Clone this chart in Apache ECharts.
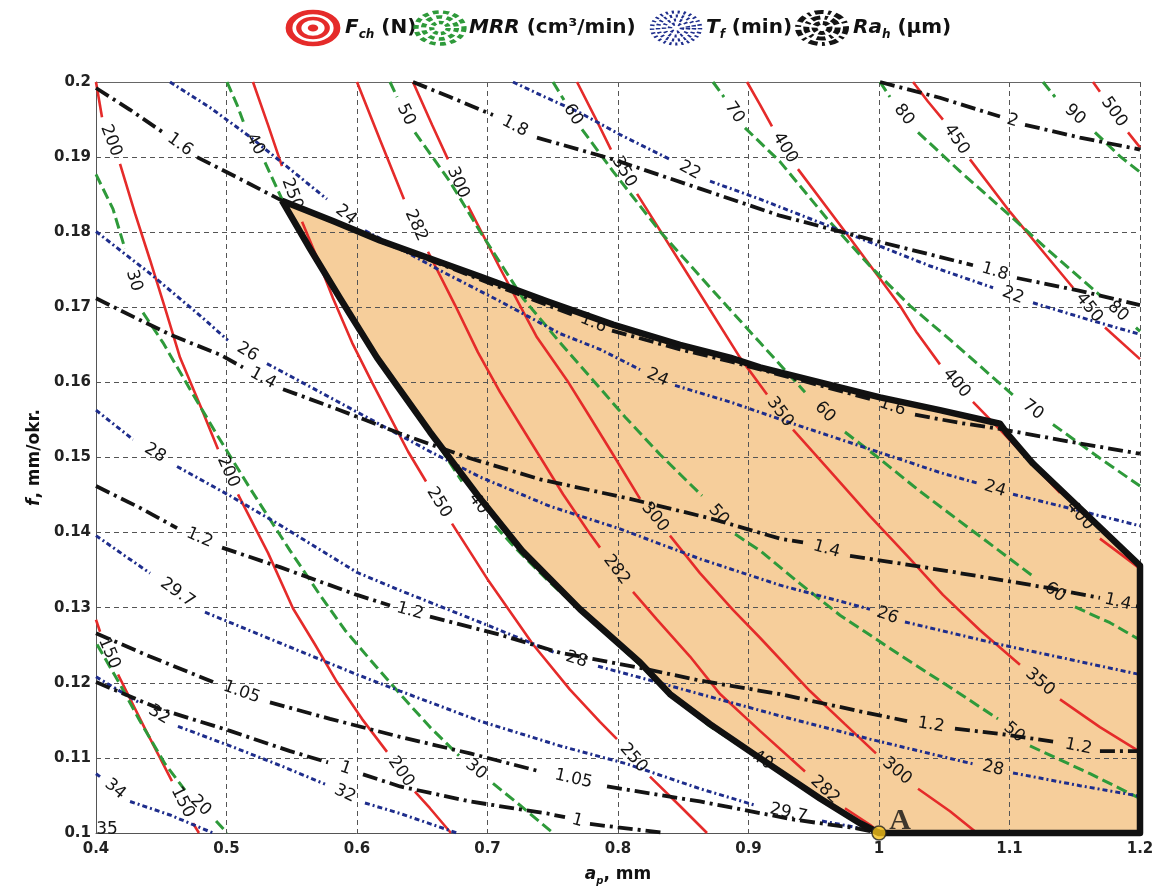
<!DOCTYPE html>
<html><head><meta charset="utf-8">
<script src="https://cdn.jsdelivr.net/npm/echarts/dist/echarts.min.js"></script>
<style>html,body{margin:0;padding:0;background:#fff}#c{width:1169px;height:891px}</style>
</head><body><div id="c"></div>
<script>
// ---------- axis ranges (a_p in mm, f in mm/okr.) ----------
const apAxis = [0.4, 1.2, 0.1];
const fAxis = [0.1, 0.2, 0.01];

// ---------- F_ch (N) contours: segments split at contour labels ----------
const F150 = [[[0.4000,0.1284],[0.4031,0.1268]],[[0.4169,0.1211],[0.4375,0.1139],[0.4582,0.1069]],[[0.4743,0.1013],[0.4789,0.1000]]];
const F200 = [[[0.4000,0.2000],[0.4046,0.1953]],[[0.4184,0.1891],[0.4299,0.1825],[0.4414,0.1763],[0.4529,0.1699],[0.4644,0.1633],[0.4797,0.1570],[0.4935,0.1511]],[[0.5088,0.1451],[0.5318,0.1373],[0.5510,0.1299],[0.5678,0.1251],[0.5847,0.1201],[0.6038,0.1152],[0.6230,0.1108]],[[0.6444,0.1055],[0.6559,0.1033],[0.6720,0.1000]]];
const F250 = [[[0.5203,0.2000],[0.5318,0.1943],[0.5425,0.1888]],[[0.5579,0.1814],[0.5701,0.1763],[0.5816,0.1712],[0.5962,0.1653],[0.6115,0.1600],[0.6253,0.1554],[0.6391,0.1508],[0.6529,0.1468]],[[0.6728,0.1412],[0.6996,0.1339],[0.7349,0.1251],[0.7632,0.1191],[0.7862,0.1148],[0.7992,0.1125]],[[0.8245,0.1075],[0.8475,0.1036],[0.8682,0.1000]]];
const F282 = [[[0.6000,0.2000],[0.6176,0.1923],[0.6360,0.1844]],[[0.6544,0.1774],[0.6751,0.1703],[0.6927,0.1640],[0.7096,0.1587],[0.7249,0.1544],[0.7402,0.1501],[0.7579,0.1451],[0.7770,0.1402],[0.7862,0.1380]],[[0.8115,0.1321],[0.8299,0.1284],[0.8552,0.1235],[0.8782,0.1185],[0.9088,0.1136],[0.9433,0.1082]],[[0.9739,0.1033],[0.9931,0.1011],[1.0008,0.1000]]];
const F300 = [[[0.6429,0.2000],[0.6575,0.1943],[0.6697,0.1897]],[[0.6851,0.1835],[0.7096,0.1752],[0.7379,0.1660],[0.7609,0.1603],[0.7785,0.1554],[0.7962,0.1504],[0.8169,0.1445]],[[0.8398,0.1396],[0.8628,0.1346],[0.8881,0.1297],[0.9088,0.1260],[0.9471,0.1189],[0.9739,0.1145],[0.9977,0.1106]],[[1.0299,0.1059],[1.0544,0.1029],[1.0751,0.1000]]];
const F350 = [[[0.7686,0.2000],[0.7824,0.1953],[0.7946,0.1910]],[[0.8146,0.1851],[0.8552,0.1739],[0.8935,0.1633],[0.9142,0.1584]],[[0.9341,0.1537],[0.9625,0.1482],[0.9931,0.1422],[1.0238,0.1365],[1.0490,0.1317],[1.0774,0.1270],[1.1080,0.1224]],[[1.1387,0.1178],[1.1693,0.1141],[1.2000,0.1108]]];
const F400 = [[[0.8989,0.2000],[0.9088,0.1970],[0.9180,0.1941]],[[0.9379,0.1884],[0.9778,0.1792],[1.0161,0.1702],[1.0291,0.1666],[1.0467,0.1624]],[[1.0720,0.1574],[1.0927,0.1537],[1.1157,0.1495],[1.1387,0.1453]],[[1.1693,0.1392],[1.1847,0.1372],[1.2000,0.1352]]];
const F450 = [[[1.0261,0.2000],[1.0375,0.1974],[1.0490,0.1950]],[[1.0697,0.1897],[1.1004,0.1827],[1.1310,0.1763],[1.1487,0.1726]],[[1.1732,0.1673],[1.2000,0.1631]]];
const F500 = [[[1.1640,0.2000],[1.1693,0.1987]],[[1.1908,0.1933],[1.2000,0.1913]]];

// ---------- MRR (cm3/min) contours ----------
const M20 = [[[0.4008,0.1251],[0.4184,0.1198],[0.4337,0.1149],[0.4529,0.1092],[0.4682,0.1057]],[[0.4920,0.1016],[0.5004,0.1000]]];
const M30 = [[[0.4000,0.1877],[0.4130,0.1831],[0.4222,0.1778]],[[0.4360,0.1693],[0.4513,0.1653],[0.4720,0.1591],[0.4935,0.1528],[0.5180,0.1459],[0.5487,0.1376],[0.5716,0.1317],[0.5908,0.1270],[0.6100,0.1231],[0.6330,0.1185],[0.6559,0.1141],[0.6782,0.1103]],[[0.7042,0.1066],[0.7249,0.1037],[0.7502,0.1000]]];
const M40 = [[[0.5004,0.2000],[0.5080,0.1970],[0.5142,0.1941]],[[0.5295,0.1893],[0.5425,0.1844],[0.5640,0.1778],[0.5870,0.1712],[0.6153,0.1633],[0.6559,0.1534],[0.6805,0.1468]],[[0.7057,0.1409],[0.7211,0.1380],[0.7464,0.1336],[0.7709,0.1297],[0.8169,0.1224],[0.8398,0.1185],[0.8705,0.1142],[0.8973,0.1112]],[[0.9241,0.1082],[0.9548,0.1046],[0.9854,0.1013],[1.0000,0.1000]]];
const M50 = [[[0.6253,0.2000],[0.6307,0.1980]],[[0.6444,0.1933],[0.6713,0.1867],[0.6943,0.1801],[0.7272,0.1712],[0.7556,0.1653],[0.7808,0.1603],[0.8054,0.1554],[0.8322,0.1504],[0.8644,0.1449]],[[0.8897,0.1398],[0.9088,0.1376],[0.9395,0.1332],[0.9701,0.1290],[1.0161,0.1237],[1.0544,0.1194],[1.0912,0.1152]],[[1.1157,0.1116],[1.1617,0.1079],[1.2000,0.1046]]];
const M60 = [[[0.7502,0.2000],[0.7586,0.1976]],[[0.7724,0.1937],[0.7962,0.1881],[0.8322,0.1801],[0.8728,0.1722],[0.9088,0.1653],[0.9433,0.1587]],[[0.9739,0.1534],[0.9985,0.1501],[1.0314,0.1455],[1.0697,0.1405],[1.1195,0.1340]],[[1.1502,0.1301],[1.1770,0.1280],[1.2000,0.1257]]];
const M70 = [[[0.8728,0.2000],[0.8812,0.1980]],[[0.8973,0.1939],[0.9241,0.1894],[0.9602,0.1818],[0.9931,0.1755],[1.0238,0.1702],[1.0544,0.1657],[1.1027,0.1583]],[[1.1333,0.1544],[1.1693,0.1499],[1.2000,0.1462]]];
const M80 = [[[1.0008,0.2000],[1.0084,0.1980]],[[1.0299,0.1933],[1.0621,0.1881],[1.1004,0.1822],[1.1310,0.1774],[1.1693,0.1716]],[[1.1969,0.1673],[1.2000,0.1668]]];
const M90 = [[[1.1257,0.2000],[1.1349,0.1980]],[[1.1655,0.1933],[1.1847,0.1901],[1.2000,0.1880]]];

// ---------- T_f (min) contours ----------
const T22 = [[[0.7195,0.2000],[0.7441,0.1980],[0.7709,0.1959],[0.8015,0.1930],[0.8398,0.1897]],[[0.8705,0.1868],[0.9088,0.1844],[0.9854,0.1792],[1.0391,0.1755],[1.0874,0.1726]],[[1.1180,0.1706],[1.1617,0.1683],[1.2000,0.1664]]];
const T24 = [[[0.4567,0.2000],[0.4874,0.1966],[0.5180,0.1927],[0.5487,0.1884],[0.5770,0.1844]],[[0.6061,0.1802],[0.6330,0.1778],[0.6659,0.1747],[0.7096,0.1708],[0.7556,0.1665],[0.7862,0.1644],[0.8169,0.1617]],[[0.8437,0.1596],[0.8858,0.1574],[0.9341,0.1545],[0.9931,0.1511],[1.0467,0.1480],[1.0751,0.1466]],[[1.1027,0.1451],[1.1540,0.1429],[1.2000,0.1409]]];
const T26 = [[[0.4000,0.1801],[0.4414,0.1745],[0.4797,0.1689],[0.5011,0.1656]],[[0.5310,0.1625],[0.5793,0.1580],[0.6176,0.1544],[0.6559,0.1508],[0.6943,0.1474],[0.7479,0.1435],[0.8015,0.1405],[0.8628,0.1365],[0.9241,0.1330],[0.9931,0.1298]],[[1.0199,0.1281],[1.0927,0.1251],[1.1464,0.1231],[1.2000,0.1211]]];
const T28 = [[[0.4000,0.1563],[0.4284,0.1524]],[[0.4621,0.1488],[0.5027,0.1449],[0.5410,0.1410],[0.6000,0.1347],[0.6330,0.1323],[0.6996,0.1277],[0.7517,0.1240]],[[0.7847,0.1222],[0.8169,0.1207],[0.8628,0.1185],[0.9241,0.1156],[0.9931,0.1125],[1.0720,0.1092]],[[1.1027,0.1080],[1.1540,0.1063],[1.2000,0.1049]]];
const T297 = [[[0.4000,0.1396],[0.4222,0.1369],[0.4414,0.1346]],[[0.4835,0.1294],[0.5410,0.1253],[0.6000,0.1211],[0.6330,0.1189],[0.6943,0.1149],[0.7556,0.1116],[0.8069,0.1092],[0.8628,0.1059],[0.9050,0.1037]],[[0.9563,0.1016],[0.9778,0.1009],[1.0000,0.1001]]];
const T32 = [[[0.4000,0.1208],[0.4337,0.1173]],[[0.4628,0.1142],[0.5027,0.1116],[0.5410,0.1090],[0.5755,0.1065]],[[0.6061,0.1040],[0.6330,0.1026],[0.6766,0.1000]]];
const T34 = [[[0.4000,0.1079],[0.4031,0.1075]],[[0.4261,0.1042],[0.4567,0.1024],[0.4897,0.1000]]];
const T35label = [0.4084, 0.1005];

// ---------- Ra_h (um) contours ----------
const R100 = [[[0.4000,0.1201],[0.4490,0.1165],[0.5027,0.1136],[0.5487,0.1109],[0.5778,0.1094]],[[0.6046,0.1078],[0.6330,0.1062],[0.6866,0.1042],[0.7456,0.1026],[0.7594,0.1021]],[[0.7785,0.1012],[0.8169,0.1004],[0.8360,0.1000]]];
const R105 = [[[0.4000,0.1266],[0.4414,0.1235],[0.4897,0.1201]],[[0.5333,0.1174],[0.5793,0.1152],[0.6330,0.1128],[0.6866,0.1106],[0.7402,0.1082]],[[0.7916,0.1062],[0.8628,0.1042],[0.9341,0.1018],[0.9801,0.1007],[1.0008,0.1000]]];
const R120 = [[[0.4000,0.1462],[0.4337,0.1433],[0.4621,0.1406]],[[0.4966,0.1380],[0.5410,0.1354],[0.6000,0.1317],[0.6253,0.1303]],[[0.6559,0.1288],[0.7096,0.1264],[0.7556,0.1240],[0.8169,0.1220],[0.8628,0.1203],[0.9241,0.1185],[0.9854,0.1162],[1.0215,0.1149]],[[1.0582,0.1139],[1.0927,0.1132],[1.1364,0.1121]],[[1.1693,0.1109],[1.2000,0.1109]]];
const R140 = [[[0.4000,0.1712],[0.4337,0.1683],[0.4590,0.1662],[0.4950,0.1637],[0.5126,0.1620]],[[0.5433,0.1591],[0.5870,0.1563],[0.6330,0.1532],[0.6866,0.1499],[0.7402,0.1471],[0.8092,0.1445],[0.8728,0.1418],[0.9241,0.1392],[0.9418,0.1387]],[[0.9778,0.1369],[1.0161,0.1359],[1.0621,0.1346],[1.1310,0.1326],[1.1693,0.1313]],[[1.1969,0.1302],[1.2000,0.1301]]];
const R160 = [[[0.4000,0.1992],[0.4261,0.1963],[0.4513,0.1933]],[[0.4774,0.1900],[0.5103,0.1871],[0.5425,0.1842],[0.5816,0.1814],[0.6176,0.1788],[0.6559,0.1763],[0.6943,0.1737],[0.7456,0.1703],[0.7670,0.1689]],[[0.7954,0.1669],[0.8475,0.1644],[0.8858,0.1628],[0.9395,0.1603],[0.9931,0.1578]],[[1.0276,0.1557],[1.0621,0.1546],[1.0927,0.1538],[1.1464,0.1521],[1.2000,0.1505]]];
const R180 = [[[0.6429,0.2000],[0.6713,0.1980],[0.7042,0.1956]],[[0.7379,0.1926],[0.7962,0.1897],[0.8628,0.1858],[0.9241,0.1822],[0.9985,0.1788],[1.0720,0.1756]],[[1.1057,0.1739],[1.1540,0.1722],[1.2000,0.1703]]];
const R200 = [[[1.0008,0.2000],[1.0467,0.1979],[1.0927,0.1954]],[[1.1119,0.1943],[1.1540,0.1926],[1.2000,0.1910]]];

// ---------- feasible region and optimum point A ----------
const feasibleRegion = [[0.5425,0.1842],[0.5816,0.1815],[0.6176,0.1789],[0.6559,0.1765],[0.6943,0.1741],[0.7456,0.1708],[0.7962,0.1677],[0.8475,0.1650],[0.8858,0.1633],[0.9088,0.1620],[0.9548,0.1600],[1.0008,0.1580],[1.0467,0.1563],[1.0927,0.1545],[1.0981,0.1532],[1.1180,0.1492],[1.2000,0.1356],[1.2000,0.1000],[1.0000,0.1000],[0.9854,0.1013],[0.9548,0.1046],[0.9034,0.1106],[0.8705,0.1145],[0.8398,0.1185],[0.8169,0.1227],[0.7709,0.1298],[0.7264,0.1376],[0.6927,0.1449],[0.6559,0.1534],[0.6153,0.1633],[0.5870,0.1712],[0.5640,0.1778]];
const pointA = [1.0, 0.1];

const contours = [
  ['red','150',F150],['red','200',F200],['red','250',F250],['red','282',F282],['red','300',F300],
  ['red','350',F350],['red','400',F400],['red','450',F450],['red','500',F500],
  ['green','20',M20],['green','30',M30],['green','40',M40],['green','50',M50],['green','60',M60],
  ['green','70',M70],['green','80',M80],['green','90',M90],
  ['blue','22',T22],['blue','24',T24],['blue','26',T26],['blue','28',T28],['blue','29.7',T297],['blue','32',T32],['blue','34',T34],
  ['black','1',R100],['black','1.05',R105],['black','1.2',R120],['black','1.4',R140],['black','1.6',R160],['black','1.8',R180],['black','2',R200]
];

const lineStyles = {
  red:   {color:'#E52B2A', width:2.6, type:'solid'},
  green: {color:'#2E9A3A', width:3, type:[11,5]},
  blue:  {color:'#1E2D8C', width:3, type:[5,3,2,3]},
  black: {color:'#141414', width:3.8, type:[15,5,3,5]}
};

const series = [];
const lineLabels = [];

series.push({
  type:'custom', z:0, silent:true, clip:false, animation:false,
  data:[feasibleRegion[0]],
  renderItem:(params, api) => ({
    type:'polygon',
    shape:{points: feasibleRegion.map(p => api.coord(p))},
    style:{fill:'#F6CE9B'}
  })
});

contours.forEach(([kind, value, segs]) => {
  segs.forEach(seg => {
    series.push({type:'line', data:seg, symbol:'none', silent:true, z:3, animation:false,
      lineStyle:Object.assign({}, lineStyles[kind])});
  });
  for (let i = 0; i < segs.length - 1; i++) {
    const a = segs[i][segs[i].length - 1], b = segs[i + 1][0];
    lineLabels.push([(a[0] + b[0]) / 2, (a[1] + b[1]) / 2, value, a[0], a[1], b[0], b[1]]);
  }
});
lineLabels.push([T35label[0], T35label[1], '35', T35label[0] - 0.01, T35label[1], T35label[0] + 0.01, T35label[1]]);

series.push({
  type:'custom', z:5, silent:true, clip:false, animation:false,
  data: lineLabels.map(l => [l[0], l[1]]),
  renderItem:(params, api) => {
    const l = lineLabels[params.dataIndex];
    const p = api.coord([l[0], l[1]]);
    const a = api.coord([l[3], l[4]]), b = api.coord([l[5], l[6]]);
    let th = Math.atan2(b[1] - a[1], b[0] - a[0]);
    if (th > Math.PI / 2) th -= Math.PI;
    if (th < -Math.PI / 2) th += Math.PI;
    return {type:'text', x:p[0], y:p[1], rotation:-th,
      style:{text:l[2], fill:'#151515', font:'17px "DejaVu Sans"', align:'center', verticalAlign:'middle', textAlign:'center', textVerticalAlign:'middle'}};
  }
});

series.push({
  type:'line', data: feasibleRegion.concat([feasibleRegion[0]]), symbol:'none', silent:true, z:6, clip:false, animation:false,
  lineStyle:{color:'#111', width:6.5, type:'solid', join:'round'}
});

series.push({
  type:'scatter', data:[pointA], symbol:'circle', symbolSize:14, z:7, clip:false, silent:true, animation:false,
  itemStyle:{color:'#F5C21C', borderColor:'#222', borderWidth:1.5},
  label:{show:true, formatter:'A', position:[18,-19], fontFamily:'"Liberation Serif", serif', fontWeight:'bold', fontSize:30, color:'#111'}
});

const fmt = v => String(parseFloat(v.toFixed(2)));
const tickFont = {fontFamily:'DejaVu Sans', fontWeight:'bold', fontSize:15, color:'#222'};
const gridLine = {show:true, lineStyle:{color:'#555', type:[5,4], width:1}};

function ring(r, color, lw, dash, fillIt) {
  return {type:'circle', shape:{cx:0, cy:0, r:r},
    style: fillIt ? {fill:color} : {fill:'none', stroke:color, lineWidth:lw, lineDash:dash || null}};
}
function icon(x, children) {
  return {type:'group', x:x, y:28, scaleX:1.5, scaleY:1, children:children};
}
const richBase = {
  i:{fontFamily:'DejaVu Sans', fontStyle:'italic', fontWeight:'bold', fontSize:20, lineHeight:26, fill:'#111', color:'#111', verticalAlign:'middle'},
  s:{fontFamily:'DejaVu Sans', fontStyle:'italic', fontWeight:'bold', fontSize:12, lineHeight:12, fill:'#111', color:'#111', verticalAlign:'bottom'},
  n:{fontFamily:'DejaVu Sans', fontWeight:'bold', fontSize:20, lineHeight:26, fill:'#111', color:'#111', verticalAlign:'middle'}
};
function legText(x, t) {
  return {type:'text', x:x, y:28, style:{text:t, rich:richBase, verticalAlign:'middle', textVerticalAlign:'middle'}};
}

const option = {
  backgroundColor:'#fff',
  animation:false,
  grid:{left:96, right:29, top:82, bottom:51, containLabel:false},
  xAxis:[{
    type:'value', min:apAxis[0], max:apAxis[1], interval:apAxis[2], z:1,
    axisLine:{show:true, onZero:false, lineStyle:{color:'#555', width:1}},
    axisTick:{show:false},
    axisLabel:Object.assign({margin:9, formatter:fmt}, tickFont),
    splitLine:gridLine,
    name:'{i|a}{s|p}{n|, mm}', nameLocation:'middle', nameGap:31,
    nameTextStyle:{rich:{
      i:{fontFamily:'DejaVu Sans', fontStyle:'italic', fontWeight:'bold', fontSize:17, lineHeight:22, color:'#111', verticalAlign:'middle'},
      s:{fontFamily:'DejaVu Sans', fontStyle:'italic', fontWeight:'bold', fontSize:10, lineHeight:10, color:'#111', verticalAlign:'bottom'},
      n:{fontFamily:'DejaVu Sans', fontWeight:'bold', fontSize:17, lineHeight:22, color:'#111', verticalAlign:'middle'}
    }}
  },{
    type:'value', position:'top', min:apAxis[0], max:apAxis[1], interval:apAxis[2], z:1,
    axisLine:{show:true, onZero:false, lineStyle:{color:'#666', width:1}},
    axisTick:{show:false}, axisLabel:{show:false}, splitLine:{show:false}
  }],
  yAxis:{
    type:'value', min:fAxis[0], max:fAxis[1], interval:fAxis[2], z:1,
    axisLine:{show:true, onZero:false, lineStyle:{color:'#555', width:1}},
    axisTick:{show:false},
    axisLabel:Object.assign({margin:5, formatter:fmt}, tickFont),
    splitLine:gridLine,
    name:'{i|f}{n|, mm/okr.}', nameLocation:'middle', nameGap:46, nameRotate:90,
    nameTextStyle:{rich:{
      i:{fontFamily:'DejaVu Sans', fontStyle:'italic', fontWeight:'bold', fontSize:17, color:'#111'},
      n:{fontFamily:'DejaVu Sans', fontWeight:'bold', fontSize:17, color:'#111'}
    }}
  },
  graphic:[
    icon(313, [ring(16,'#E52B2A',4.5), ring(9.5,'#E52B2A',3.5), ring(3.5,'#E52B2A',0,null,true)]),
    legText(345, '{i|F}{s|ch}{n| (N)}'),
    icon(440, [ring(16,'#2E9A3A',3.5,[4,3]), ring(11,'#2E9A3A',3.5,[4,3]), ring(5.5,'#2E9A3A',3.5,[3,2])]),
    legText(469, '{i|MRR}{n| (cm³/min)}'),
    icon(676, [ring(16,'#1E2D8C',3,[1.5,2.5]), ring(12,'#1E2D8C',3,[1.5,2.5]), ring(8,'#1E2D8C',3,[1.5,2.5]), ring(4,'#1E2D8C',3,[1.5,2.5])]),
    legText(706, '{i|T}{s|f}{n| (min)}'),
    icon(822, [ring(16,'#141414',4,[6,3,2,3]), ring(10.5,'#141414',4,[6,3,2,3]), ring(5,'#141414',4,[4,2])]),
    legText(853, '{i|Ra}{s|h}{n| (μm)}')
  ],
  series:series
};

const chart = echarts.init(document.getElementById('c'), null, {renderer:'canvas', width:1169, height:891});
chart.setOption(option);
</script>
</body></html>
